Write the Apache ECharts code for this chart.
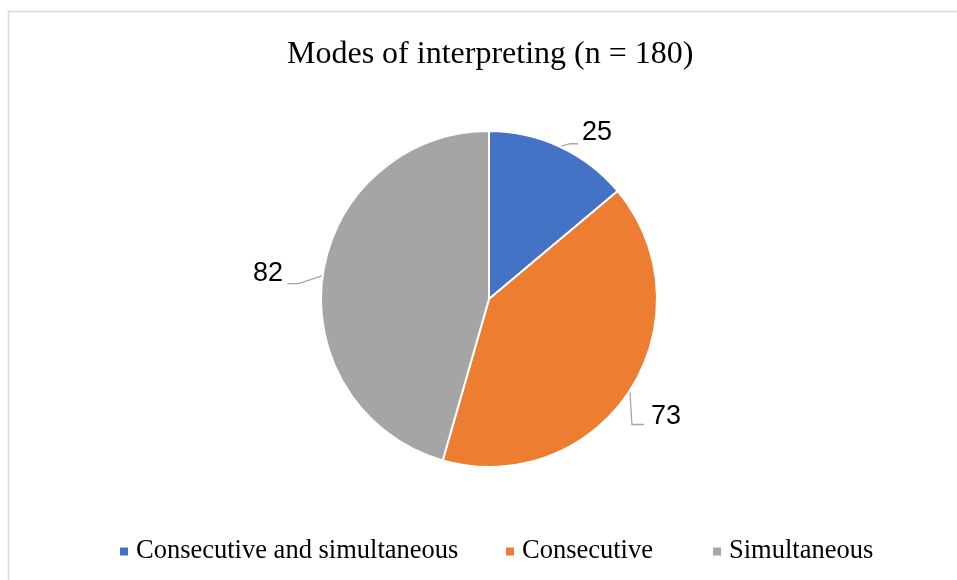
<!DOCTYPE html>
<html>
<head>
<meta charset="utf-8">
<script src="https://cdn.jsdelivr.net/npm/echarts@6/dist/echarts.min.js"></script>
<style>
  html, body { margin: 0; padding: 0; background: #ffffff; }
  #chart { width: 957px; height: 580px; }
</style>
</head>
<body>
<div id="chart"></div>
<script>
// Interpreting modes reported by respondents
const categories = ['Consecutive and simultaneous', 'Consecutive', 'Simultaneous'];
const counts = [25, 73, 82];
const colors = ['#4472C4', '#ED7D31', '#A5A5A5'];
const titleText = 'Modes of interpreting (n = 180)';

const serif = '"Liberation Serif", "Times New Roman", serif';
const sans = '"Liberation Sans", Arial, sans-serif';

// Where each value label sits and how its leader line bends
const labelPlacement = [
  { x: 582, y: 133, align: 'left',  elbow: [10, -3], tail: [18, -3] },
  { x: 651, y: 417, align: 'left',  elbow: [2, 34],  tail: [14, 34] },
  { x: 283, y: 274, align: 'right', elbow: [-24, 8], tail: [-35, 8] }
];

const chart = echarts.init(document.getElementById('chart'), null, { renderer: 'canvas' });

// Separate one-item legends so each entry sits at its own spot
const legendLefts = [113, 499, 706];
const legends = categories.map((name, i) => ({
  data: [name],
  left: legendLefts[i],
  top: 533,
  orient: 'horizontal',
  icon: 'rect',
  itemWidth: 10,
  itemHeight: 10,
  selectedMode: false,
  textStyle: { fontFamily: serif, fontSize: 26.5, color: '#000000', padding: [0, 0, 0, 2] }
}));

chart.setOption({
  animation: false,
  backgroundColor: '#ffffff',
  color: colors,
  title: {
    text: titleText,
    left: 282,
    top: 34,
    textStyle: { fontFamily: serif, fontSize: 32, fontWeight: 'normal', color: '#000000' }
  },
  legend: legends,
  graphic: [{
    type: 'rect',
    shape: { x: 8.5, y: 11.5, width: 1000, height: 1000 },
    style: { fill: 'none', stroke: '#D9D9D9', lineWidth: 1.5 },
    silent: true
  }],
  series: [{
    type: 'pie',
    center: [489, 299],
    radius: 168,
    startAngle: 90,
    clockwise: true,
    itemStyle: { borderColor: '#ffffff', borderWidth: 2 },
    label: {
      show: true,
      position: 'outside',
      formatter: '{c}',
      fontFamily: sans,
      fontSize: 27,
      color: '#000000'
    },
    labelLine: {
      show: true,
      length: 8,
      length2: 8,
      lineStyle: { color: '#A6A6A6', width: 1.3 }
    },
    labelLayout: function (params) {
      const p = labelPlacement[params.dataIndex];
      const start = params.labelLinePoints ? params.labelLinePoints[0] : [p.x, p.y];
      return {
        x: p.x,
        y: p.y,
        align: p.align,
        verticalAlign: 'middle',
        labelLinePoints: [
          start,
          [start[0] + p.elbow[0], start[1] + p.elbow[1]],
          [start[0] + p.tail[0], start[1] + p.tail[1]]
        ]
      };
    },
    data: categories.map((name, i) => ({ name: name, value: counts[i] }))
  }]
});
</script>
</body>
</html>
